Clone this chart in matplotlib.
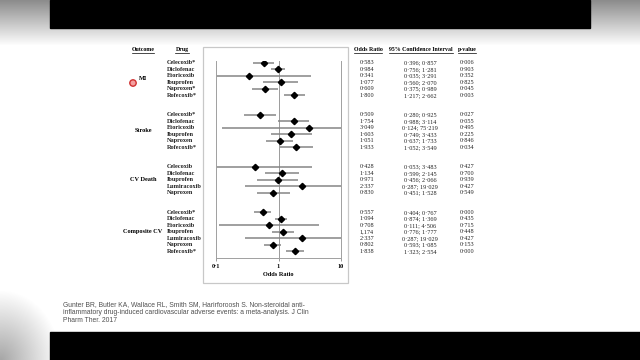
import matplotlib.pyplot as plt
import matplotlib.transforms as mtrans
from matplotlib.patches import Rectangle, Circle
from matplotlib.lines import Line2D
import numpy as np

plt.rcParams['font.family'] = ['Liberation Serif', 'DejaVu Serif']

# table data
outcomes = ["MI", "Stroke", "CV Death", "Composite CV"]
drugs = [
    ["Celecoxib*", "Diclofenac", "Etoricoxib", "Ibuprofen", "Naproxen*", "Rofecoxib*"],
    ["Celecoxib*", "Diclofenac", "Etoricoxib", "Ibuprofen", "Naproxen", "Rofecoxib*"],
    ["Celecoxib", "Diclofenac", "Ibuprofen", "Lumiracoxib", "Naproxen"],
    ["Celecoxib*", "Diclofenac", "Etoricoxib", "Ibuprofen", "Lumiracoxib", "Naproxen", "Rofecoxib*"],
]
odds = [
    ["0·583", "0·984", "0·341", "1·077", "0·609", "1·800"],
    ["0·509", "1·754", "3·049", "1·603", "1·051", "1·933"],
    ["0·428", "1·134", "0·971", "2·337", "0·830"],
    ["0·557", "1·094", "0·708", "1,174", "2·337", "0·802", "1·838"],
]
ci = [
    ["0·396; 0·857", "0·756; 1·281", "0·035; 3·291", "0·560; 2·070", "0·375; 0·989", "1·217; 2·662"],
    ["0·280; 0·925", "0·988; 3·114", "0·124; 75·219", "0·749; 3·433", "0·637; 1·733", "1·052; 3·549"],
    ["0·053; 3·483", "0·599; 2·145", "0·456; 2·066", "0·287; 19·029", "0·451; 1·528"],
    ["0·404; 0·767", "0·874; 1·369", "0·111; 4·506", "0·776; 1·777", "0·287; 19·029", "0·593; 1·085", "1·323; 2·554"],
]
pval = [
    ["0·006", "0·903", "0·352", "0·825", "0·045", "0·003"],
    ["0·027", "0·055", "0·495", "0·225", "0·846", "0·034"],
    ["0·427", "0·700", "0·939", "0·427", "0·549"],
    ["0·000", "0·435", "0·715", "0·448", "0·427", "0·153", "0·000"],
]
citation = ["Gunter BR, Butler KA, Wallace RL, Smith SM, Harirforoosh S. Non-steroidal anti-",
            "inflammatory drug-induced cardiovascular adverse events: a meta-analysis. J Clin",
            "Pharm Ther. 2017"]


def num(s):
    return float(s.replace("·", ".").replace(",", "."))


W, H = 640, 360
fig = plt.figure(figsize=(6.4, 3.6), dpi=100)

# video frame background
bg = fig.add_axes([0, 0, 1, 1], zorder=-10)
img = np.ones((H, W, 3))
yy = np.arange(H)[:, None]
xx = np.arange(W)[None, :]
top = 0.55 + 0.45 * np.clip(yy / 45.0, 0, 1)
img *= top[..., None]
blob = np.clip(1 - np.hypot(xx / 60.0, (H - yy) / 70.0), 0, 1) * 0.35
img -= blob[..., None]
bg.imshow(np.clip(img, 0, 1), extent=[0, W, H, 0], aspect='auto')
bg.add_patch(Rectangle((50, 0), 540, 28, color='black'))
bg.add_patch(Rectangle((50, 332), 590, 28, color='black'))
bg.add_patch(Rectangle((203, 47), 145, 236, fill=False, ec='#c8c8c8', lw=0.9))
bg.add_patch(Circle((133, 83), 3.2, fc='#f4a0a0', ec='#d03030', lw=1.0))
bg.set_xlim(0, W)
bg.set_ylim(H, 0)
bg.axis('off')

# forest plot axes
ax = fig.add_axes([216 / W, 1 - 258.3 / H, 125 / W, (258.3 - 60.8) / H])

rows = []
start = 0
for g in drugs:
    rows.append(list(range(start, start + len(g))))
    start += len(g) + 2

for gi in range(len(outcomes)):
    for r, o, c in zip(rows[gi], odds[gi], ci[gi]):
        lo, hi = [num(v) for v in c.split(";")]
        ax.plot([lo, hi], [r, r], color='#858585', lw=1.1, solid_capstyle='butt', zorder=2)
        ax.plot(num(o), r, marker='D', color='black', ms=3.2, zorder=3)

ax.axvline(1, color='#9a9a9a', lw=0.7, zorder=1)
ax.set_xscale('log')
ax.set_xlim(0.1, 10)
ax.set_ylim(30.1, -0.3)
ax.set_xticks([0.1, 1, 10])
ax.set_xticklabels(["0·1", "1", "10"], fontweight='bold')
ax.minorticks_off()
ax.tick_params(axis='x', length=2, width=0.6, color='#888888', labelsize=4.5, pad=2)
ax.set_yticks([])
ax.set_xlabel("Odds Ratio", fontsize=4.5, fontweight='bold', labelpad=2)
ax.spines['top'].set_visible(False)
for s in ['left', 'right', 'bottom']:
    ax.spines[s].set_color('#a0a0a0')
    ax.spines[s].set_linewidth(0.7)
ax.patch.set_alpha(0)

# table text
trans = mtrans.blended_transform_factory(fig.transFigure, ax.transData)
fs = 4.5
hdr_y = -2
headers = [("Outcome", 143), ("Drug", 182), ("Odds Ratio", 368), ("95% Confidence Interval", 421), ("p-value", 467)]
htexts = []
for label, x in headers:
    htexts.append(ax.text(x / W, hdr_y, label, transform=trans, ha='center', va='center',
                          fontsize=4.2, fontweight='bold', clip_on=False))

for gi, name in enumerate(outcomes):
    ax.text(143 / W, np.mean(rows[gi]), name, transform=trans, ha='center', va='center',
            fontsize=fs, fontweight='bold', clip_on=False)
    for r, d, o, c, p in zip(rows[gi], drugs[gi], odds[gi], ci[gi], pval[gi]):
        ax.text(167 / W, r, d, transform=trans, ha='left', va='center', fontsize=fs,
                fontweight='bold', color='#222222', clip_on=False)
        ax.text(367 / W, r, o, transform=trans, ha='center', va='center', fontsize=fs,
                color='#222222', clip_on=False)
        ax.text(420 / W, r, c, transform=trans, ha='center', va='center', fontsize=fs,
                color='#222222', clip_on=False)
        ax.text(467 / W, r, p, transform=trans, ha='center', va='center', fontsize=fs,
                color='#222222', clip_on=False)

for i, line in enumerate(citation):
    fig.text(63 / W, 1 - (305 + 8 * i) / H, line, family=['Liberation Sans', 'DejaVu Sans'],
             fontsize=4.9, color='#505050', ha='left', va='center')

# underline the column headers
fig.canvas.draw()
inv = fig.transFigure.inverted()
for t in htexts:
    bb = t.get_window_extent()
    (x0, y0), (x1, _) = inv.transform([[bb.x0, bb.y0], [bb.x1, bb.y1]])
    fig.add_artist(Line2D([x0, x1], [y0 - 0.8 / H, y0 - 0.8 / H], color='black', lw=0.5))

fig.savefig("out.png", dpi=100)
